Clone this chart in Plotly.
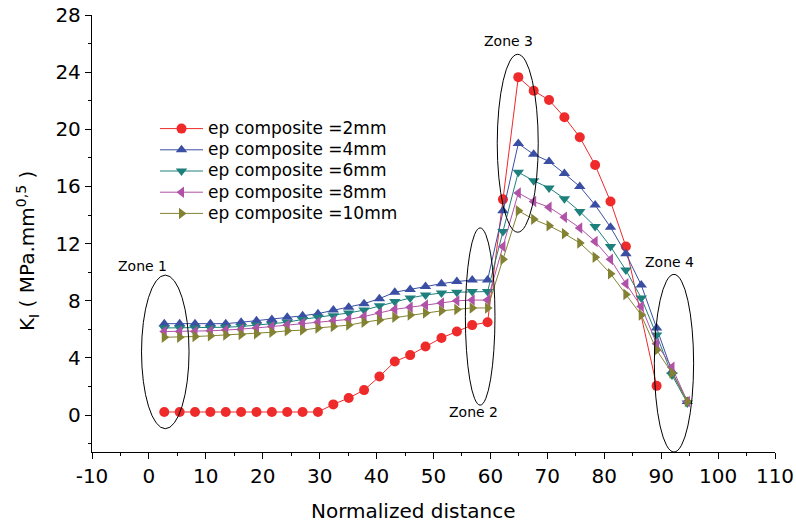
import plotly.graph_objects as go

# Normalized distance along the crack path
distance = [2.7, 5.4, 8.1, 10.8, 13.5, 16.2, 18.9, 21.6, 24.3, 27.0,
            29.7, 32.4, 35.1, 37.8, 40.5, 43.2, 45.9, 48.6, 51.4, 54.1,
            56.8, 59.5, 62.2, 64.9, 67.6, 70.3, 73.0, 75.7, 78.4, 81.1,
            83.8, 86.5, 89.2, 91.9, 94.6]

# Stress intensity factor K_I for each composite thickness
ki_2mm = [0.22, 0.22, 0.22, 0.22, 0.22, 0.22, 0.22, 0.22, 0.22, 0.22,
          0.22, 0.75, 1.2, 1.75, 2.7, 3.75, 4.2, 4.8, 5.4, 5.85,
          6.3, 6.5, 15.1, 23.65, 22.7, 22.05, 20.85, 19.45, 17.5, 14.95,
          11.8, None, 2.05, None, None]
ki_4mm = [6.4, 6.4, 6.4, 6.4, 6.4, 6.5, 6.6, 6.7, 6.85, 6.95,
          7.1, 7.35, 7.55, 7.8, 8.15, 8.6, 8.8, 9.0, 9.2, 9.35,
          9.45, 9.45, 14.3, 19.0, 18.25, 17.75, 16.9, 16.0, 14.7, 13.15,
          11.3, 9.1, 6.1, 3.05, 0.95]
ki_6mm = [6.1, 6.1, 6.1, 6.1, 6.15, 6.2, 6.3, 6.35, 6.5, 6.7,
          6.85, 6.95, 7.15, 7.35, 7.65, 7.95, 8.2, 8.4, 8.55, 8.6,
          8.65, 8.65, 12.85, 17.0, 16.4, 15.9, 15.15, 14.25, 13.2, 11.8,
          10.15, 8.2, 5.6, 2.8, 0.85]
ki_8mm = [5.85, 5.85, 5.85, 5.9, 5.95, 6.0, 6.1, 6.2, 6.3, 6.45,
          6.5, 6.6, 6.7, 6.9, 7.15, 7.4, 7.55, 7.7, 7.85, 8.0,
          8.05, 8.05, 11.8, 15.55, 14.95, 14.55, 13.85, 13.1, 12.15, 10.9,
          9.2, 7.6, 5.0, 3.35, 0.95]
ki_10mm = [5.45, 5.45, 5.5, 5.55, 5.6, 5.65, 5.7, 5.8, 5.9, 5.95,
           6.1, 6.2, 6.3, 6.5, 6.65, 6.85, 7.0, 7.15, 7.3, 7.4,
           7.5, 7.5, 10.9, 14.3, 13.7, 13.25, 12.7, 12.05, 11.05, 9.9,
           8.45, 7.0, 4.55, 2.95, 0.95]

series_names = ["ep composite =2mm", "ep composite =4mm", "ep composite =6mm",
                "ep composite =8mm", "ep composite =10mm"]
series_values = [ki_2mm, ki_4mm, ki_6mm, ki_8mm, ki_10mm]
series_colors = ["#EE2A2A", "#3A4FA3", "#1E807C", "#B052A8", "#828232"]
series_symbols = ["circle", "triangle-up", "triangle-down", "triangle-left", "triangle-right"]
series_sizes = [10, 10, 10, 10, 10]

# Zone outlines (x0, x1, y0, y1) and their labels (text, x, y)
zone_boxes = [(-1.3, 7.05, -0.95, 9.8),
              (55.6, 60.8, 0.7, 13.1),
              (61.2, 68.4, 12.8, 25.25),
              (88.8, 95.7, -2.58, 9.85)]
zone_labels = [("Zone 1", -1.1, 10.45),
               ("Zone 2", 57.1, 0.2),
               ("Zone 3", 63.1, 26.2),
               ("Zone 4", 91.4, 10.7)]

x_ticks = list(range(-10, 111, 10))
y_ticks = list(range(0, 29, 4))

FONT = "DejaVu Sans"
LEGEND_TEXT_SIZE = 17

W, H = 796, 524
L, R, T, B = 92, 21, 15, 72
pw, ph = W - L - R, H - T - B


def px_to_paper(px, py):
    return (px - L) / pw, 1 - (py - T) / ph


fig = go.Figure()
for name, vals, col, sym, sz in zip(series_names, series_values, series_colors,
                                    series_symbols, series_sizes):
    fig.add_trace(go.Scatter(
        x=distance, y=vals,
        name=f'<span style="font-size:{LEGEND_TEXT_SIZE}px">{name}</span>',
        mode="lines+markers", connectgaps=True,
        line=dict(color=col, width=1),
        marker=dict(symbol=sym, size=sz, color=col, line=dict(width=0)),
    ))

for (x0, x1, y0, y1) in zone_boxes:
    fig.add_shape(type="circle", xref="x", yref="y", x0=x0, x1=x1, y0=y0, y1=y1,
                  line=dict(color="black", width=1))

for (txt, tx, ty) in zone_labels:
    fig.add_annotation(x=tx, y=ty, xref="x", yref="y", text=txt, showarrow=False,
                       xanchor="center", yanchor="middle",
                       font=dict(family=FONT, size=14, color="black"))

# Axis titles
ax, ay = px_to_paper(413, 511)
fig.add_annotation(x=ax, y=ay, xref="paper", yref="paper", text="Normalized distance",
                   showarrow=False, xanchor="center", yanchor="middle",
                   font=dict(family=FONT, size=20, color="black"))
ax, ay = px_to_paper(27, 251)
fig.add_annotation(x=ax, y=ay, xref="paper", yref="paper",
                   text="K<sub>I</sub> ( MPa.mm<sup>0,5</sup> )", textangle=-90,
                   showarrow=False, xanchor="center", yanchor="middle",
                   font=dict(family=FONT, size=20, color="black"))

lx, ly = px_to_paper(155, 113)
fig.update_layout(
    width=W, height=H,
    margin=dict(l=L, r=R, t=T, b=B, autoexpand=False),
    paper_bgcolor="white", plot_bgcolor="white",
    font=dict(family=FONT, color="black"),
    showlegend=True,
    legend=dict(x=lx, y=ly, xanchor="left", yanchor="top",
                bgcolor="rgba(0,0,0,0)", borderwidth=0, itemwidth=43,
                font=dict(family=FONT, size=14, color="black"),
                tracegroupgap=0),
)
fig.update_xaxes(
    range=[-10, 110], tickvals=x_ticks, ticktext=[str(v) for v in x_ticks],
    automargin=False,
    showline=True, linecolor="black", linewidth=1.3, showgrid=False, zeroline=False,
    ticks="outside", ticklen=6, tickwidth=1.3, tickcolor="black",
    tickfont=dict(family=FONT, size=20, color="black"),
    minor=dict(dtick=5, tick0=-10, ticks="outside", ticklen=3, tickwidth=1.3,
               tickcolor="black", showgrid=False),
)
fig.update_yaxes(
    range=[-2.58, 28], tickvals=y_ticks, ticktext=[str(v) for v in y_ticks],
    automargin=False,
    showline=True, linecolor="black", linewidth=1.3, showgrid=False, zeroline=False,
    ticks="outside", ticklen=6, tickwidth=1.3, tickcolor="black",
    tickfont=dict(family=FONT, size=20, color="black"),
    minor=dict(dtick=2, tick0=0, ticks="outside", ticklen=3, tickwidth=1.3,
               tickcolor="black", showgrid=False),
)

fig.write_html("out.html")
